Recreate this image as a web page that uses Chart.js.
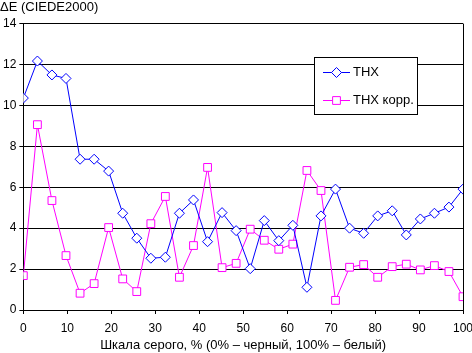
<!DOCTYPE html>
<html lang="ru">
<head>
  <meta charset="UTF-8">
  <title>ΔE THX</title>
  <script src="https://cdn.jsdelivr.net/npm/chart.js"></script>
  <style>
    html, body { margin: 0; padding: 0; background: #fff; }
    #wrap { width: 472px; height: 353px; }
  </style>
</head>
<body>
<div id="wrap"><canvas id="deltaChart" width="472" height="353"></canvas></div>

<script>
// уровни серого, %
const grayLevels = [0, 3.2, 6.5, 9.7, 12.9, 16.1, 19.4, 22.6, 25.8, 29.0, 32.3, 35.5, 38.7, 41.9, 45.2, 48.4,
  51.6, 54.8, 58.1, 61.3, 64.5, 67.7, 71.0, 74.2, 77.4, 80.6, 83.9, 87.1, 90.3, 93.5, 96.8, 100];
const thx = [10.36, 12.17, 11.49, 11.32, 7.37, 7.37, 6.79, 4.73, 3.51, 2.53, 2.58, 4.73, 5.38, 3.34, 4.76, 3.88,
  2.02, 4.37, 3.39, 4.14, 1.11, 4.60, 5.91, 4.00, 3.75, 4.60, 4.85, 3.67, 4.45, 4.73, 5.03, 5.91];
const thxCorr = [1.68, 9.06, 5.35, 2.66, 0.82, 1.29, 4.03, 1.52, 0.90, 4.22, 5.55, 1.60, 3.15, 6.97, 2.07, 2.28,
  3.95, 3.41, 2.97, 3.22, 6.82, 5.84, 0.47, 2.09, 2.22, 1.60, 2.12, 2.24, 1.96, 2.17, 1.88, 0.65];
const seriesNames = ["THX", "THX корр."];
const xTicks = [0, 10, 20, 30, 40, 50, 60, 70, 80, 90, 100];
const yTicks = [0, 2, 4, 6, 8, 10, 12, 14];

const FONT = "'Liberation Sans', Arial, sans-serif";

function toPoints(values) {
  return values.map((v, i) => ({ x: grayLevels[i], y: v }));
}

// легенда в рамке внутри области графика
const boxLegend = {
  id: "boxLegend",
  afterDatasetsDraw(chart) {
    const ctx = chart.ctx;
    const x0 = 314, y0 = 57, w = 103, h = 57;
    ctx.save();
    ctx.fillStyle = "#fff";
    ctx.fillRect(x0, y0, w, h);
    ctx.strokeStyle = "#000";
    ctx.lineWidth = 1;
    ctx.strokeRect(x0 + 0.5, y0 + 0.5, w, h);
    chart.data.datasets.forEach((ds, i) => {
      const y = y0 + 15.5 + i * 28;
      ctx.strokeStyle = ds.borderColor;
      ctx.beginPath();
      ctx.moveTo(x0 + 9, y);
      ctx.lineTo(x0 + 36, y);
      ctx.stroke();
      ctx.fillStyle = "#fff";
      Chart.helpers.drawPoint(ctx, {
        pointStyle: ds.pointStyle, radius: ds.pointRadius, borderWidth: 1
      }, x0 + 22.5, y);
      ctx.fillStyle = "#000";
      ctx.font = "13px " + FONT;
      ctx.textBaseline = "middle";
      ctx.fillText(ds.label, x0 + 39, y);
    });
    ctx.restore();
  }
};

const ctx = document.getElementById("deltaChart").getContext("2d");
new Chart(ctx, {
  type: "line",
  data: {
    datasets: [{
      label: seriesNames[0],
      data: toPoints(thx),
      borderColor: "#0000ff",
      borderWidth: 1,
      backgroundColor: "#fff",
      pointStyle: "rectRot",
      pointRadius: 5,
      pointBorderWidth: 1,
      tension: 0
    }, {
      label: seriesNames[1],
      data: toPoints(thxCorr),
      borderColor: "#ff00ff",
      borderWidth: 1,
      backgroundColor: "#fff",
      pointStyle: "rect",
      pointRadius: 5.5,
      pointBorderWidth: 1,
      tension: 0
    }]
  },
  options: {
    responsive: false,
    animation: false,
    layout: { padding: { left: 0, right: 0, top: 0, bottom: 0 } },
    plugins: {
      legend: { display: false },
      tooltip: { enabled: false },
      title: {
        display: true,
        text: "ΔE (CIEDE2000)",
        align: "start",
        color: "#000",
        font: { family: FONT, size: 13, weight: "normal" },
        padding: { top: 0, bottom: 8 }
      }
    },
    scales: {
      x: {
        type: "linear",
        min: 0,
        max: 100,
        afterBuildTicks: axis => { axis.ticks = xTicks.map(v => ({ value: v })); },
        afterFit: axis => { axis.paddingRight = 9; axis.height = 43; },
        grid: {
          color: c => (c.tick && c.tick.value === 100 ? "#000" : "rgba(0,0,0,0)"),
          tickColor: "#000",
          tickLength: 4,
          lineWidth: 1
        },
        border: { color: "#000", width: 1 },
        ticks: { color: "#000", font: { family: FONT, size: 12, lineHeight: 1 }, padding: 9, maxRotation: 0 },
        title: {
          display: true,
          text: "Шкала серого, % (0% – черный, 100% – белый)",
          color: "#000",
          font: { family: FONT, size: 13, lineHeight: 1 },
          padding: { top: 0, bottom: 1 }
        }
      },
      y: {
        min: 0,
        max: 14,
        afterBuildTicks: axis => { axis.ticks = yTicks.map(v => ({ value: v })); },
        grid: { color: "#000", tickColor: "#000", tickLength: 4, lineWidth: 1 },
        border: { color: "#000", width: 1 },
        ticks: { color: "#000", font: { family: FONT, size: 12 }, padding: 3 }
      }
    }
  },
  plugins: [boxLegend]
});
</script>
</body>
</html>
